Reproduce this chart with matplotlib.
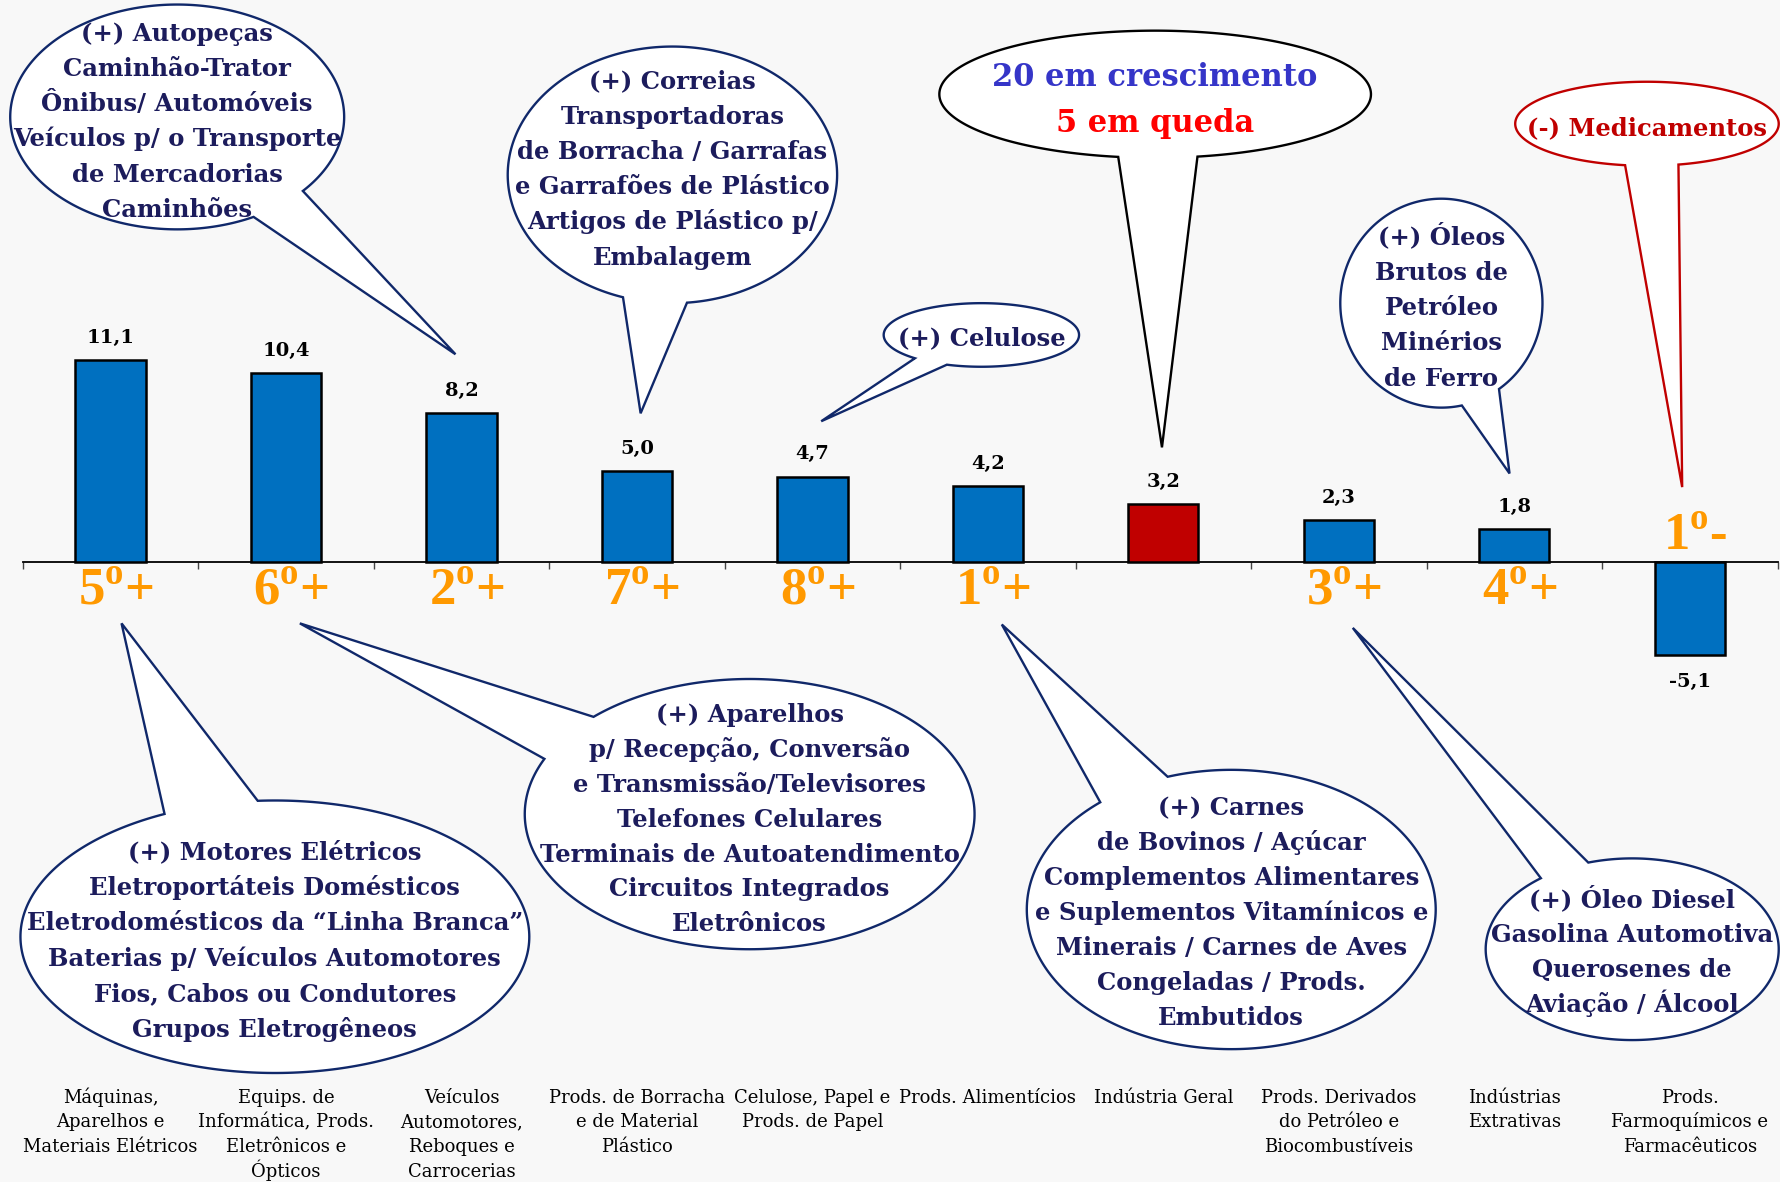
import numpy as np
import matplotlib.pyplot as plt
import matplotlib.transforms as mtransforms
from matplotlib.patches import Polygon

plt.rcParams["mathtext.fontset"] = "custom"
plt.rcParams["mathtext.bf"] = "Liberation Serif:bold"
plt.rcParams["mathtext.rm"] = "Liberation Serif:bold"

# ---- data -----------------------------------------------------------------
CATEGORIES = [
    "Máquinas,\nAparelhos e\nMateriais Elétricos",
    "Equips. de\nInformática, Prods.\nEletrônicos e\nÓpticos",
    "Veículos\nAutomotores,\nReboques e\nCarrocerias",
    "Prods. de Borracha\ne de Material\nPlástico",
    "Celulose, Papel e\nProds. de Papel",
    "Prods. Alimentícios",
    "Indústria Geral",
    "Prods. Derivados\ndo Petróleo e\nBiocombustíveis",
    "Indústrias\nExtrativas",
    "Prods.\nFarmoquímicos e\nFarmacêuticos",
]
VALUES = [11.1, 10.4, 8.2, 5.0, 4.7, 4.2, 3.2, 2.3, 1.8, -5.1]
RANKS = ["5", "6", "2", "7", "8", "1", "", "3", "4", "1"]
BAR_COLORS = ["#0070C0"] * 6 + ["#C00000"] + ["#0070C0"] * 3

NAVY = "#10286a"
TXT = "#1c1c5c"

# callouts (text, ellipse centre/radii, tail base points, tail tip, first line y, pitch)
# coordinates are in a 1568 x 1041 reference frame (y downwards)
CALLOUTS = [
    (["(+) Autopeças", "Caminhão-Trator", "Ônibus/ Automóveis",
      "Veículos p/ o Transporte", "de Mercadorias", "Caminhões"],
     (156, 103, 147, 99), (268, 169), (224, 192), (401, 312), 28, 31, NAVY, TXT),
    (["(+) Correias", "Transportadoras", "de Borracha / Garrafas",
      "e Garrafões de Plástico", "Artigos de Plástico p/", "Embalagem"],
     (592, 154, 145, 113), (548, 263), (605, 268), (564, 364), 70, 31, NAVY, TXT),
    (["(+) Celulose"],
     (864, 295, 86, 28), (807, 315), (835, 320), (723, 371), 296, 31, NAVY, TXT),
    (["(-) Medicamentos"],
     (1450, 109, 116, 37), (1431, 145), (1477, 144), (1481, 429), 111, 31, "#C00000", "#C00000"),
    (["(+) Óleos", "Brutos de", "Petróleo", "Minérios", "de Ferro"],
     (1269, 267, 89, 92), (1287, 357), (1320, 343), (1329, 417), 207, 31.2, NAVY, TXT),
    (["(+) Motores Elétricos", "Eletroportáteis Domésticos",
      "Eletrodomésticos da “Linha Branca”", "Baterias p/ Veículos Automotores",
      "Fios, Cabos ou Condutores", "Grupos Eletrogêneos"],
     (242, 825, 224, 120), (145, 717), (227, 706), (107, 549), 749, 31.2, NAVY, TXT),
    (["(+) Aparelhos", "p/ Recepção, Conversão", "e Transmissão/Televisores",
      "Telefones Celulares", "Terminais de Autoatendimento",
      "Circuitos Integrados", "Eletrônicos"],
     (660, 717, 198, 119), (522, 631), (478, 668), (264, 549), 628, 30.7, NAVY, TXT),
    (["(+) Carnes", "de Bovinos / Açúcar", "Complementos Alimentares",
      "e Suplementos Vitamínicos e", "Minerais / Carnes de Aves",
      "Congeladas / Prods.", "Embutidos"],
     (1084, 801, 180, 123), (968, 706), (1027, 682), (882, 550), 710, 30.8, NAVY, TXT),
    (["(+) Óleo Diesel", "Gasolina Automotiva", "Querosenes de", "Aviação / Álcool"],
     (1437, 836, 129, 80), (1356, 773), (1398, 759), (1191, 553), 791, 30.7, NAVY, TXT),
]

W, H = 1568.0, 1041.0


def fx(x):
    return x / W


def fy(y):
    return 1 - y / H


fig = plt.figure(figsize=(17.81, 11.82), dpi=100, facecolor="#f8f8f8")
ax = fig.add_axes([20 / W, 0, 1545 / W, 1])
ax.set_facecolor("none")
ax.set_xlim(-0.5, 9.5)
ax.set_ylim(-(H - 495) / 16.0, 495 / 16.0)

x = np.arange(len(VALUES))
ax.bar(x, VALUES, width=0.4, color=BAR_COLORS, edgecolor="black",
       linewidth=1.8, zorder=3)

for s in ["top", "right", "left"]:
    ax.spines[s].set_visible(False)
ax.spines["bottom"].set_position(("data", 0))
ax.spines["bottom"].set_linewidth(1.3)
ax.set_yticks([])
ax.set_xticks(np.arange(-0.5, 10, 1))
ax.set_xticklabels([])
ax.tick_params(axis="x", direction="out", length=5, width=1, color="#444444")

# value labels
for xi, v in zip(x, VALUES):
    ax.annotate(f"{v:.1f}".replace(".", ","), (xi, v), xytext=(0, 16 if v > 0 else -20),
                textcoords="offset points", ha="center", va="center",
                family="DejaVu Serif", weight="bold", fontsize=14, color="black")

# rank labels
for xi, v, r in zip(x, VALUES, RANKS):
    if not r:
        continue
    sign = "+" if v > 0 else "-"
    ax.text(xi + 0.03, -1.6 if v > 0 else 1.4, r + r"$^{\mathbf{o}}$" + sign,
            ha="center", va="center", family="Liberation Serif", weight="bold",
            fontsize=38, color="#FF9900", zorder=4)

# category labels at the bottom
blend = mtransforms.blended_transform_factory(ax.transData, fig.transFigure)
for xi, lab in zip(x, CATEGORIES):
    for k, line in enumerate(lab.split("\n")):
        ax.text(xi, fy(965 + k * 22 + 6), line, transform=blend, ha="center",
                va="baseline", family="DejaVu Serif", fontsize=13, color="black")


def bubble_points(cx, cy, rx, ry, b1, b2, tip):
    t1 = np.arctan2((b1[1] - cy) / ry, (b1[0] - cx) / rx)
    t2 = np.arctan2((b2[1] - cy) / ry, (b2[0] - cx) / rx)
    d = (t2 - t1) % (2 * np.pi)
    if d < np.pi:
        start, length = t2, 2 * np.pi - d
    else:
        start, length = t1, d
    t = np.linspace(start, start + length, 300)
    px = cx + rx * np.cos(t)
    py = cy + ry * np.sin(t)
    px = np.append(px, tip[0])
    py = np.append(py, tip[1])
    return np.column_stack([fx(px), fy(py)])


for lines, (cx, cy, rx, ry), b1, b2, tip, y0, pitch, ec, tc in CALLOUTS:
    poly = Polygon(bubble_points(cx, cy, rx, ry, b1, b2, tip), closed=True,
                   facecolor="white", edgecolor=ec, linewidth=1.7,
                   transform=fig.transFigure, zorder=5)
    fig.add_artist(poly)
    for k, line in enumerate(lines):
        fig.text(fx(cx), fy(y0 + k * pitch + 8), line, ha="center", va="baseline",
                 family="DejaVu Serif", weight="bold", fontsize=17.5, color=tc,
                 zorder=6)

# summary callout
poly = Polygon(bubble_points(1017, 83, 190, 56, (984, 139), (1055, 139), (1023, 394)),
               closed=True, facecolor="white", edgecolor="black", linewidth=1.7,
               transform=fig.transFigure, zorder=5)
fig.add_artist(poly)
fig.text(fx(1017), fy(66 + 10), "20 em crescimento", ha="center", va="baseline",
         family="DejaVu Serif", weight="bold", fontsize=22, color="#3535c8", zorder=6)
fig.text(fx(1017), fy(106 + 10), "5 em queda", ha="center", va="baseline",
         family="DejaVu Serif", weight="bold", fontsize=22, color="#ff0000", zorder=6)

fig.savefig("out.png", dpi=100, facecolor=fig.get_facecolor())
